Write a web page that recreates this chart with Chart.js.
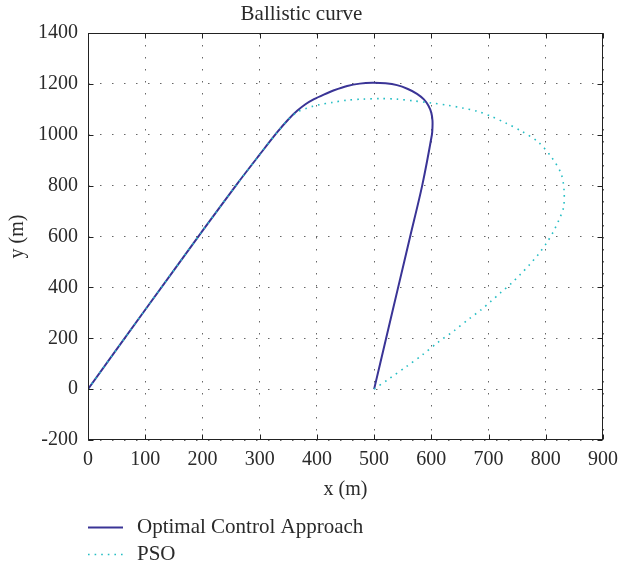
<!DOCTYPE html>
<html>
<head>
<meta charset="utf-8">
<script src="https://cdn.jsdelivr.net/npm/chart.js@4"></script>
<style>
  html, body { margin: 0; padding: 0; background: #fff; }
  #wrap { width: 619px; height: 569px; }
</style>
</head>
<body>
<div id="wrap"><canvas id="c" width="619" height="569"></canvas></div>
<script>
// ---- data ----
const chartTitle = 'Ballistic curve';
const xTitle = 'x (m)';
const yTitle = 'y (m)';
const seriesNames = ['Optimal Control Approach', 'PSO'];

const ocaX = [0, 100, 200, 260, 300, 330, 350, 366, 380, 395, 412, 430, 453, 475, 497, 520, 540, 559, 575, 587, 595, 600, 602, 602, 601, 584, 563, 542, 521, 500];
const ocaY = [0, 312, 622, 805, 922, 1008, 1060, 1095, 1120, 1140, 1158, 1175, 1192, 1201, 1204, 1202, 1195, 1180, 1161, 1139, 1114, 1086, 1056, 1030, 1000, 800, 600, 400, 200, 0];

const psoX = [0, 100, 200, 260, 300, 330, 350, 366, 382, 393, 404, 427, 453, 480, 512, 540, 570, 600, 629, 655, 681, 705, 730, 757, 787, 810, 827, 832, 831, 823, 813, 801, 787, 772, 756, 740, 722, 704, 687, 667, 640, 611, 584, 556, 527, 500];
const psoY = [0, 312, 622, 805, 922, 1008, 1060, 1090, 1104, 1112, 1118, 1127, 1136, 1140, 1142, 1140, 1133, 1125, 1116, 1105, 1092, 1072, 1046, 1015, 971, 912, 846, 780, 714, 665, 618, 573, 530, 490, 452, 416, 381, 345, 312, 278, 230, 183, 134, 88, 42, 0];

const xTicks = [0, 100, 200, 300, 400, 500, 600, 700, 800, 900];
const yTicks = [-200, 0, 200, 400, 600, 800, 1000, 1200, 1400];

// ---- styling ----
const SERIF = '"Liberation Serif", "Times New Roman", serif';
const TEXT = '#2a2a2a';
const BLUE = 'rgb(58,52,150)';
const CYAN = 'rgb(38,190,196)';

const toPts = (xs, ys) => xs.map((x, i) => ({ x: x, y: ys[i] }));

const framePlugin = {
  id: 'frame',
  afterDatasetsDraw(chart) {
    const { ctx, chartArea: a, scales } = chart;
    const sx = scales.x, sy = scales.y;
    const L = Math.round(a.left) + 0.5, R = Math.round(a.right) - 0.5;
    const T = Math.round(a.top) + 0.5, B = Math.round(a.bottom) - 0.5;
    ctx.save();
    ctx.strokeStyle = '#222';
    ctx.lineWidth = 1;
    ctx.setLineDash([]);
    ctx.strokeRect(L, T, R - L, B - T);
    const tl = 5;
    ctx.beginPath();
    xTicks.forEach(v => {
      const p = Math.round(sx.getPixelForValue(v)) + 0.5;
      ctx.moveTo(p, B); ctx.lineTo(p, B - tl);
      ctx.moveTo(p, T); ctx.lineTo(p, T + tl);
    });
    yTicks.forEach(v => {
      const p = Math.round(sy.getPixelForValue(v)) + 0.5;
      ctx.moveTo(L, p); ctx.lineTo(L + tl, p);
      ctx.moveTo(R, p); ctx.lineTo(R - tl, p);
    });
    ctx.stroke();
    ctx.restore();
  },
  afterDraw(chart) {
    const { ctx } = chart;
    ctx.save();
    ctx.font = '21px ' + SERIF;
    ctx.textBaseline = 'middle';
    ctx.textAlign = 'left';
    const rows = [527, 554];
    chart.data.datasets.forEach((ds, i) => {
      const y = rows[i];
      ctx.strokeStyle = ds.borderColor;
      ctx.lineWidth = ds.borderWidth;
      ctx.setLineDash(ds.borderDash || []);
      ctx.beginPath();
      ctx.moveTo(88, y + 0.5);
      ctx.lineTo(123, y + 0.5);
      ctx.stroke();
      ctx.setLineDash([]);
      ctx.fillStyle = TEXT;
      ctx.fillText(ds.label, 137, y);
    });
    ctx.restore();
  }
};

new Chart(document.getElementById('c'), {
  type: 'scatter',
  data: {
    datasets: [
      {
        label: seriesNames[0],
        data: toPts(ocaX, ocaY),
        showLine: true,
        borderColor: BLUE,
        backgroundColor: BLUE,
        borderWidth: 2,
        pointRadius: 0,
        tension: 0.3,
        order: 1
      },
      {
        label: seriesNames[1],
        data: toPts(psoX, psoY),
        showLine: true,
        borderColor: CYAN,
        backgroundColor: CYAN,
        borderWidth: 1.6,
        borderDash: [1.6, 5],
        pointRadius: 0,
        tension: 0.3,
        order: 0
      }
    ]
  },
  options: {
    responsive: false,
    animation: false,
    layout: { padding: { left: 0, right: 16, top: 0, bottom: 64 } },
    plugins: {
      legend: { display: false },
      tooltip: { enabled: false },
      title: {
        display: true,
        text: chartTitle,
        color: TEXT,
        font: { family: SERIF, size: 21, weight: 'normal' },
        padding: { top: 2, bottom: 5.8 }
      }
    },
    scales: {
      x: {
        type: 'linear',
        min: 0, max: 900,
        afterBuildTicks: s => { s.ticks = xTicks.map(v => ({ value: v })); },
        afterFit: s => { s.height = 65; s.paddingLeft = 0; s.paddingRight = 0; },
        ticks: { color: TEXT, font: { family: SERIF, size: 20 }, padding: 8, maxRotation: 0, callback: v => String(v) },
        grid: { color: 'rgba(0,0,0,0.6)', lineWidth: 1, drawTicks: false },
        border: { display: false, dash: [1.5, 10.5] },
        title: { display: true, text: xTitle, color: TEXT, font: { family: SERIF, size: 20 }, padding: { top: 0, bottom: 3 } }
      },
      y: {
        type: 'linear',
        min: -200, max: 1400,
        afterBuildTicks: s => { s.ticks = yTicks.map(v => ({ value: v })); },
        afterFit: s => { s.width = 88; },
        ticks: { color: TEXT, font: { family: SERIF, size: 20 }, padding: 10, callback: v => String(v) },
        grid: { color: 'rgba(0,0,0,0.6)', lineWidth: 1, drawTicks: false },
        border: { display: false, dash: [1.5, 10.5] },
        title: { display: true, text: yTitle, color: TEXT, font: { family: SERIF, size: 20 }, padding: { top: 6, bottom: 0 } }
      }
    }
  },
  plugins: [framePlugin]
});
</script>
</body>
</html>
